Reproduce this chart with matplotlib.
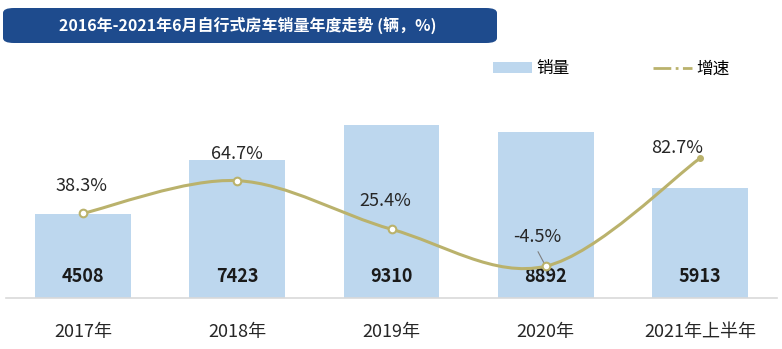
import numpy as np
import matplotlib
matplotlib.use('Agg')
import matplotlib.pyplot as plt
from matplotlib.path import Path
from matplotlib.patches import PathPatch, FancyBboxPatch, Patch
from matplotlib.lines import Line2D

plt.rcParams['font.family'] = ['Noto Sans CJK SC', 'DejaVu Sans']

# sales (vehicles) and year-on-year growth (%)
years = ['2017年', '2018年', '2019年', '2020年', '2021年上半年']
sales = [4508, 7423, 9310, 8892, 5913]
growth = [38.3, 64.7, 25.4, -4.5, 82.7]

bar_color = '#BDD7EE'
line_color = '#BAB26C'
title_bg = '#1E4B8D'

fig = plt.figure(figsize=(7.82, 3.49), dpi=100)
ax = fig.add_axes([6 / 782, 51 / 349, 771 / 782, 218 / 349])
x = np.arange(len(years))

bars = ax.bar(x, sales, width=0.62, color=bar_color, zorder=1)
ax.set_xlim(-0.5, len(years) - 0.5)
ax.set_ylim(0, 11700)
ax.set_yticks([])
for s in ['top', 'right', 'left']:
    ax.spines[s].set_visible(False)
ax.spines['bottom'].set_color('#D9D9D9')
ax.spines['bottom'].set_linewidth(1.2)
ax.set_xticks(x)
ax.set_xticklabels(years, fontsize=13, color='#262626')
ax.tick_params(axis='x', length=0, pad=18)

for xi, v in zip(x, sales):
    ax.annotate(str(v), xy=(xi, 0), xytext=(0, 22), textcoords='offset pixels',
                ha='center', va='center', fontsize=13, fontweight='bold', color='#1A1A1A')

# growth rate on a second axis, drawn as a smoothed curve
ax2 = ax.twinx()
ax2.set_ylim(-30.2, 146.1)
ax2.axis('off')

pts = np.column_stack([x, growth]).astype(float)
ext = np.vstack([pts[0], pts, pts[-1]])
verts = [tuple(pts[0])]
codes = [Path.MOVETO]
for i in range(len(pts) - 1):
    p0, p1, p2, p3 = ext[i], ext[i + 1], ext[i + 2], ext[i + 3]
    c1 = p1 + (p2 - p0) / 6
    c2 = p2 - (p3 - p1) / 6
    verts += [tuple(c1), tuple(c2), tuple(p2)]
    codes += [Path.CURVE4] * 3
ax2.add_patch(PathPatch(Path(verts, codes), fill=False, edgecolor=line_color,
                        linewidth=2.2, capstyle='round', zorder=3))
ax2.plot(x[:-1], growth[:-1], 'o', ms=5.5, mfc='white', mec=line_color, mew=1.5, zorder=4)
ax2.plot(x[-1:], growth[-1:], 'o', ms=4, mfc=line_color, mec=line_color, zorder=4)

label_offsets = [(-2, 27), (0, 27), (-6, 28), (-8, 29), (-23, 10)]
for xi, g, off in zip(x, growth, label_offsets):
    ax2.annotate(f'{g}%', xy=(xi, g), xytext=off, textcoords='offset pixels',
                 ha='center', va='center', fontsize=13, color='#262626')
# leader line for the -4.5% label
ax2.annotate('', xy=(3, growth[3]), xytext=(-9, 17), textcoords='offset pixels',
             arrowprops=dict(arrowstyle='-', color='#7F7F7F', lw=0.8))

# legend
handles = [Patch(facecolor=bar_color, edgecolor='none'),
           Line2D([], [], color=line_color, lw=2, linestyle='-.')]
fig.legend(handles, ['销量', '增速'], loc='center left', bbox_to_anchor=(485 / 782, 1 - 69 / 349),
           ncol=2, frameon=False, fontsize=12, handlelength=2.3, handleheight=0.66,
           handletextpad=0.3, columnspacing=5.0, borderpad=0)

# title banner
banner = FancyBboxPatch((3 / 782, 1 - 43 / 349), 494 / 782, 35 / 349,
                        boxstyle='round,pad=0,rounding_size=0.014', transform=fig.transFigure,
                        facecolor=title_bg, edgecolor='none')
fig.patches.append(banner)
fig.text(248 / 782, 1 - 25 / 349, '2016年-2021年6月自行式房车销量年度走势 (辆，%)',
         ha='center', va='center', fontsize=11.5, fontweight='bold', color='white')

fig.savefig('out.png', dpi=100)
